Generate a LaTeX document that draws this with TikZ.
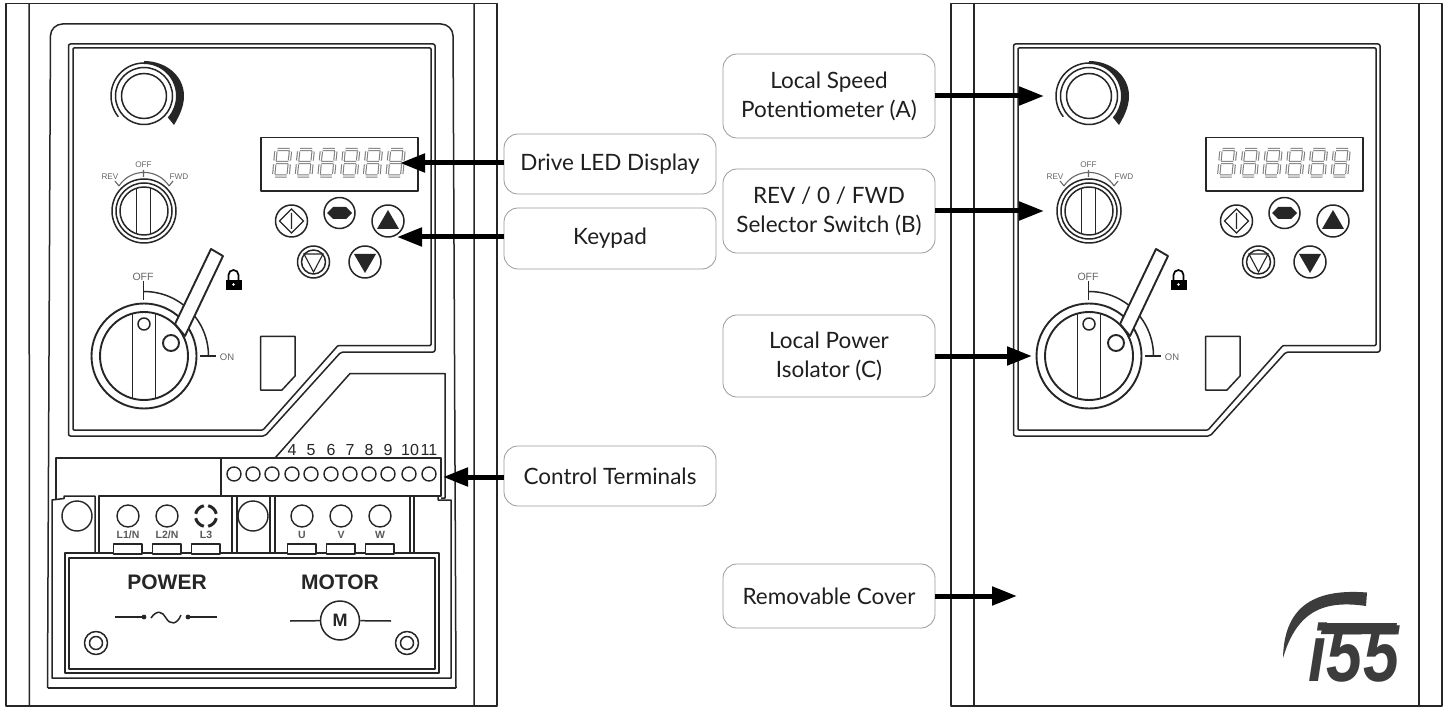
\documentclass[tikz,border=0pt]{standalone}
\usepackage{fontspec}
\setmainfont{Lato}
\newfontfamily\arial{Liberation Sans}
\usetikzlibrary{arrows.meta}
\definecolor{ink}{HTML}{262626}
\definecolor{soft}{HTML}{666666}
\definecolor{logo}{HTML}{3C3C3C}
\tikzset{
  ln/.style={draw=ink,line width=1.5pt,line join=round},
  heavy ln/.style={draw=ink,line width=1.9pt},
  thin ln/.style={draw=ink,line width=1.1pt},
  callout/.style={draw=black!40,line width=.8pt,rounded corners=14pt,align=center,font=\fontsize{22.5}{29}\selectfont,text=black!88,inner sep=0pt,fill=white},
  bigarrow/.style={line width=5pt,draw=black,-{Triangle[length=25pt,width=18pt]}},
  term/.style={circle,draw=ink,line width=1.4pt,minimum size=14pt,inner sep=0pt,fill=white},
  lug/.style={circle,draw=ink,line width=1.4pt,minimum size=22pt,inner sep=0pt,fill=white},
  num/.style={font=\arial\fontsize{16}{16}\selectfont,text=ink,inner sep=0pt},
  tlabel/.style={font=\arial\bfseries\fontsize{10.5}{10}\selectfont,text=black!65,inner sep=0pt},
  soft label/.style={font=\arial\fontsize{8.2}{8}\selectfont,text=soft,inner sep=0pt},
  title label/.style={font=\arial\bfseries\fontsize{21}{21}\selectfont,text=ink,inner sep=0pt},
  seg out/.style={draw=soft!85,line width=3.3pt},
  seg in/.style={draw=white,line width=1.2pt},
}
\newcommand{\segpath}{(4,149.5)--(16,149.5) (1.5,176)--(13,176) (2.5,162.5)--(14.5,162.5) (2.4,151.5)--(1.5,160.5) (1.2,164.5)--(0.3,174) (16.9,151.5)--(16,160.5) (15.7,164.5)--(14.8,174)}
\newcommand{\onedigit}[1]{%
  \begin{scope}[shift={(#1,0)}]
    \draw[seg out] \segpath;
    \draw[seg in] \segpath;
  \end{scope}}
\newcommand{\ctrlpanel}[1]{%
  \begin{scope}[shift={(#1,0)}]
    % panel outline
    \draw[ln,rounded corners=2pt] (68.5,44)--(435,44)--(435,352)--(341,352)--(265,436)--(68.5,436)--cycle;
    \draw[ln,rounded corners=1pt] (73,48)--(431,48)--(431,345.5)--(338,345.5)--(263,430)--(73,430)--cycle;
    % potentiometer
    \fill[ink] (144,64) arc (-90:42:32) -- (174,125) .. controls (178,118) and (184,108) .. (184,96) .. controls (184,75) and (165,61) .. (144,61) -- cycle;
    \draw[ln] (144,96) circle (22.5) circle (28.5);
    \draw[ln] (144,96) ++(141:33) arc (141:275:33);
    % selector switch
    \draw[ln] (144,211) circle (32) circle (28) circle (24);
    \begin{scope}
      \clip (144,211) circle (24);
      \draw[ln] (136.5,170)--(136.5,250) (150.5,170)--(150.5,250);
    \end{scope}
    \draw[thin ln,draw=soft] (144,202.4) ++(-147:30) arc (-147:-33:30);
    \draw[thin ln,draw=soft] (143.5,170)--(143.5,177) (115,181)--(119,186) (173,181)--(169,186);
    \node[soft label] (lrev#1) at (110,176.5) {REV};
    \node[soft label] (loff#1) at (143.5,165) {OFF};
    \node[soft label] (lfwd#1) at (179,176.5) {FWD};
    % display
    \draw[ln] (261,137.5) rectangle (418,191);
    \foreach \i in {0,...,5} {\onedigit{273.5+22.7*\i}}
    % buttons
    \draw[ln] (291.5,221) circle (16) (339.5,213) circle (15.5) (388,221) circle (16)
              (313.5,262) circle (16) (313.5,262) circle (12) (365,262) circle (16);
    \draw[thin ln] (291.5,209)--(303.5,221)--(291.5,233)--(279.5,221)--cycle (291.5,213)--(291.5,229);
    \fill[ink] (327,213)--(333,207)--(346,207)--(352,213)--(346,219)--(333,219)--cycle;
    \fill[ink] (388,210)--(399,229)--(377,229)--cycle;
    \draw[thin ln] (304,254)--(323,254)--(313.5,272)--cycle;
    \fill[ink] (354,254)--(376,254)--(365,273)--cycle;
    % isolator
    \draw[ln] (144,356) ++(-90:64.5) arc (-90:0:64.5);
    \draw[ln] (143.5,281)--(143.5,300) (200,356)--(216,356);
    \draw[heavy ln,fill=white] (144,356) circle (52.5);
    \draw[heavy ln] (144,356) circle (44);
    \begin{scope}
      \clip (144,356) circle (44);
      \draw[heavy ln] (132.5,300)--(132.5,410) (155.5,300)--(155.5,410);
    \end{scope}
    \draw[ln] (144,324) circle (6);
    \draw[heavy ln,fill=white,line join=round] (175,324)--(211,249)--(223,256)--(185,336)--cycle;
    \draw[heavy ln,fill=white] (171,343) circle (8);
    \node[font=\arial\fontsize{10.5}{11}\selectfont,text=soft,inner sep=0pt] (isooff#1) at (143,277) {OFF};
    \node[font=\arial\fontsize{9.5}{10}\selectfont,text=soft,inner sep=0pt] (isoon#1) at (227,357) {ON};
    % lock
    \fill[black] (226,280) rectangle (241.5,290);
    \draw[line width=1.7pt,black] (228.5,281) -- (228.5,275) arc (-180:0:5) -- (238.5,281);
    \fill[white] (233.5,284.5) circle (1.4);
    % notch
    \draw[ln] (260.5,336.5)--(295,336.5)--(295,376)--(282,390)--(260.5,390)--cycle;
  \end{scope}}
\begin{document}
\begin{tikzpicture}[x=1pt,y=1pt,yscale=-1]
\useasboundingbox (0,0) rectangle (1450,708);
\fill[white] (0,0) rectangle (1450,708);
% --- left housing
\draw[ln] (6,3.5) rectangle (497,706);
\draw[ln] (29,3.5)--(29.5,706) (474,3.5)--(474,706);
\draw[ln,rounded corners=12pt] (47.5,688)--(50.5,24)--(453,24)--(456,688);
\draw[ln,rounded corners=1pt] (47.5,688)--(456,688);
\ctrlpanel{0}
% terminal cover
\draw[ln] (275,458)--(350,373.5)--(445,373.5)--(445,498)--(441,498);
\draw[ln] (56,500)--(56,458)--(221,458);
\draw[ln,fill=white] (221,458) rectangle (441,496);
\foreach \n/\x in {t1/234,t2/253,t3/272,t4/292,t5/311,t6/331,t7/350,t8/369,t9/388,t10/409,t11/429}{
  \node[term] (\n) at (\x,474) {};
}
\foreach \n/\x/\t in {n4/292/4,n5/311/5,n6/331/6,n7/350/7,n8/369/8,n9/388/9,n10/410/10,n11/429/11}{
  \node[num] (\n) at (\x,450) {\t};
}
% power block
\draw[ln] (438,496)--(438,500)--(451,500)--(451,678)--(52,678)--(52,500)--(64,498.5)--(64,496)--(95,496)--(95,553);
\draw[ln] (99,553)--(99,496)--(221,496);
\draw[ln] (232,496)--(232,553) (237,553)--(237,496)--(270,496)--(270,553) (275,553)--(275,496)--(410,496)--(410,553) (414,553)--(414,496);
\draw[ln] (65,553)rectangle(439,673);
\draw[ln] (69,558)rectangle(435,669);
\node[lug,minimum size=30pt] (lug1) at (77,516) {};
\node[lug,minimum size=30pt] (lug2) at (253,516) {};
\foreach \n/\x/\t in {a1/128/{L1\slash N},a2/167/{L2\slash N},a4/302/U,a5/341/V,a6/380/W}{
  \node[lug] (\n) at (\x,516) {};
  \node[tlabel] (\n l) at (\x,534.5) {\t};
  \draw[ln,fill=white] (\x-14.5,544) rectangle (\x+14,554);
}
\foreach \a in {0,90,180,270}{
  \draw[draw=ink,line width=3pt] (206,516) ++(\a+12:10.5) arc (\a+12:\a+78:10.5);
}
\node[tlabel] (a3l) at (206,534.5) {L3};
\draw[ln,fill=white] (191.5,544) rectangle (220,554);
\node[title label] (pw) at (167,582) {POWER};
\node[title label] (mt) at (340,582) {MOTOR};
\fill[ink] (144,617) circle (2.4) (188,617) circle (2.4);
\draw[ln] (115,617)--(144,617) (188,617)--(217,617);
\draw[ln] (151,618) .. controls (157,609) and (163,612) .. (166,618) .. controls (170,625) and (177,625) .. (181,615);
\node[circle,draw=ink,line width=1.5pt,minimum size=39pt,inner sep=0pt,font=\arial\bfseries\fontsize{18}{18}\selectfont,text=ink] (mot) at (340,620.5) {M};
\coordinate (ml) at (290,621);
\coordinate (mr) at (391,621);
\draw[ln] (ml)--(mot) (mot)--(mr);
\draw[ln] (96,643) circle (11.5) circle (6.5) (407,643) circle (11.5) circle (6.5);
% --- right housing
\draw[ln] (951,3.5) rectangle (1442,706);
\draw[ln] (974,3.5)--(974,706) (1419,3.5)--(1419,706);
\ctrlpanel{945}
% logo
\fill[logo] (1283,658) .. controls (1284,610) and (1310,588) .. (1367,592.5) -- (1366,606) .. controls (1325,600) and (1297,610) .. cycle;
\node[font=\arial\bfseries\itshape\fontsize{81}{81}\selectfont,text=logo,inner sep=0pt,anchor=center] (i55) at (1354,653) {\scalebox{.8}[1]{i55}};
\fill[logo] (1323,623)--(1397,623)--(1395,634)--(1321,634)--cycle;
% --- callouts
\node[callout,minimum width=212pt,minimum height=60pt] (led) at (610,164) {Drive LED Display};
\node[callout,minimum width=212pt,minimum height=61pt] (key) at (610,238.5) {Keypad};
\node[callout,minimum width=212pt,minimum height=60pt] (ctl) at (610,476) {Control Terminals};
\node[callout,minimum width=212pt,minimum height=84pt] (pot) at (829,96) {Local Speed\\Potentiometer (A)};
\node[callout,minimum width=212pt,minimum height=84pt] (sel) at (829,211) {REV / 0 / FWD\\Selector Switch (B)};
\node[callout,minimum width=212pt,minimum height=82pt] (iso) at (829,356) {Local Power\\Isolator (C)};
\node[callout,minimum width=212pt,minimum height=64pt] (rem) at (829,596) {Removable Cover};
% arrow ends
\coordinate (eled) at (400,163);
\coordinate (ekey) at (397,237);
\coordinate (ectl) at (443,477);
\coordinate (epot) at (1044,96);
\coordinate (esel) at (1044,211);
\coordinate (eiso) at (1032,356);
\coordinate (erem) at (1017,596);
\draw[bigarrow] (led.west|-eled)--(eled);
\draw[bigarrow] (key.west|-ekey)--(ekey);
\draw[bigarrow] (ctl.west|-ectl)--(ectl);
\draw[bigarrow] (pot.east|-epot)--(epot);
\draw[bigarrow] (sel.east|-esel)--(esel);
\draw[bigarrow] (iso.east|-eiso)--(eiso);
\draw[bigarrow] (rem.east|-erem)--(erem);
\end{tikzpicture}
\end{document}
